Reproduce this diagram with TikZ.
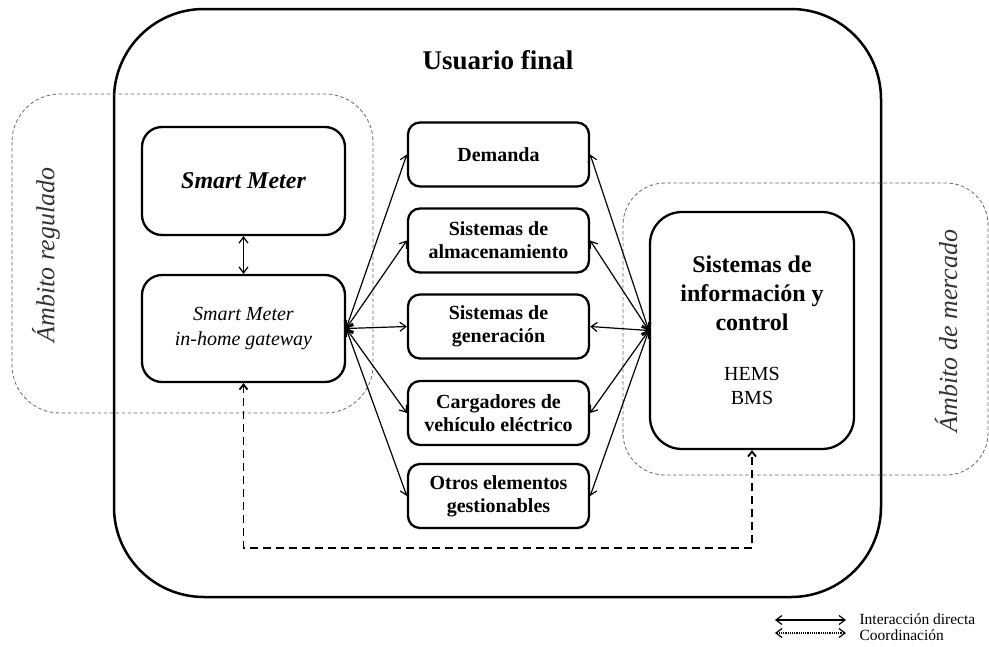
\documentclass[tikz,border=0pt]{standalone}
\usepackage{fontspec}
\setmainfont{Liberation Serif}
\usetikzlibrary{arrows.meta}
\tikzset{
  box/.style={draw, line width=2.3pt, rounded corners=20pt, align=center, inner sep=2pt},
  midbox/.style={box, rounded corners=12pt, minimum width=181pt, minimum height=64pt, font=\fontsize{20}{23}\selectfont\bfseries},
  region/.style={draw=black!60, line width=0.8pt, dash pattern=on 3.5pt off 2.5pt},
  link/.style={line width=1.2pt, {Straight Barb[length=6pt,width=9pt]}-{Straight Barb[length=6pt,width=9pt]}},
  coord/.style={line width=1.8pt, dash pattern=on 8pt off 5pt, {Straight Barb[length=5pt,width=8pt]}-{Straight Barb[length=5pt,width=8pt]}},
  legcoord/.style={line width=1.2pt, dash pattern=on 1.2pt off 1pt, {Straight Barb[length=6pt,width=9pt]}-{Straight Barb[length=6pt,width=9pt]}},
  regionlabel/.style={font=\fontsize{26}{30}\selectfont\itshape, text=black!80, rotate=90},
  legtext/.style={font=\fontsize{15.5}{18}\selectfont, anchor=west}
}
\newcommand{\hemsfont}{\fontsize{20}{24}\selectfont\mdseries}
\begin{document}
\begin{tikzpicture}[x=1pt,y=-1pt]
\useasboundingbox (0,0) rectangle (989,646);
% outer box
\draw[line width=2.5pt, rounded corners=90pt] (114,9) rectangle (881,597);
\node[font=\fontsize{27}{30}\selectfont\bfseries] (title) at (498,60) {Usuario final};
% dashed regions
\draw[region, rounded corners=48pt] (12,94) rectangle (373,413);
\draw[region, rounded corners=42pt] (623,183) rectangle (988,475);
\node[regionlabel] (reg) at (46,255) {Ámbito regulado};
\node[regionlabel] (mer) at (946,331) {Ámbito de mercado};
% left boxes
\node[box, minimum width=203pt, minimum height=108pt, font=\fontsize{24}{28}\selectfont\bfseries\itshape] (sm) at (243.5,181) {Smart Meter};
\node[box, minimum width=203pt, minimum height=107pt, font=\fontsize{20}{25}\selectfont\itshape] (gw) at (243.5,328.5) {Smart Meter\\in-home gateway};
% middle boxes
\node[midbox] (dem) at (498.5,154.5) {Demanda};
\node[midbox] (alm) at (498.5,240.5) {Sistemas de\\almacenamiento};
\node[midbox] (gen) at (498.5,326.5) {Sistemas de\\generación};
\node[midbox] (car) at (498.5,413) {Cargadores de\\vehículo eléctrico};
\node[midbox] (otr) at (498.5,496) {Otros elementos\\gestionables};
% right box
\node[box, rounded corners=32pt, minimum width=204pt, minimum height=237pt, font=\fontsize{24}{29}\selectfont\bfseries] (sic) at (752,330.5)
  {Sistemas de\\información y\\control\\[21pt]\hemsfont HEMS\\[-5pt]\hemsfont BMS};
% connectors
\draw[link] (sm) -- (gw);
\foreach \n in {dem,alm,gen,car,otr}{
  \draw[link] (gw.east) -- (\n.west);
  \draw[link] (\n.east) -- (sic.west);
}
\coordinate (dl) at (243.5,548);
\draw[coord] (gw.south) -- (dl) -| (sic.south);
% legend
\coordinate (l1a) at (775,620);
\coordinate (l1b) at (846,620);
\coordinate (l2a) at (775,633);
\coordinate (l2b) at (846,633);
\draw[link] (l1a) -- (l1b);
\draw[legcoord] (l2a) -- (l2b);
\node[legtext] (t1) at (856,619) {Interacción directa};
\node[legtext] (t2) at (856,635) {Coordinación};
\end{tikzpicture}
\end{document}
